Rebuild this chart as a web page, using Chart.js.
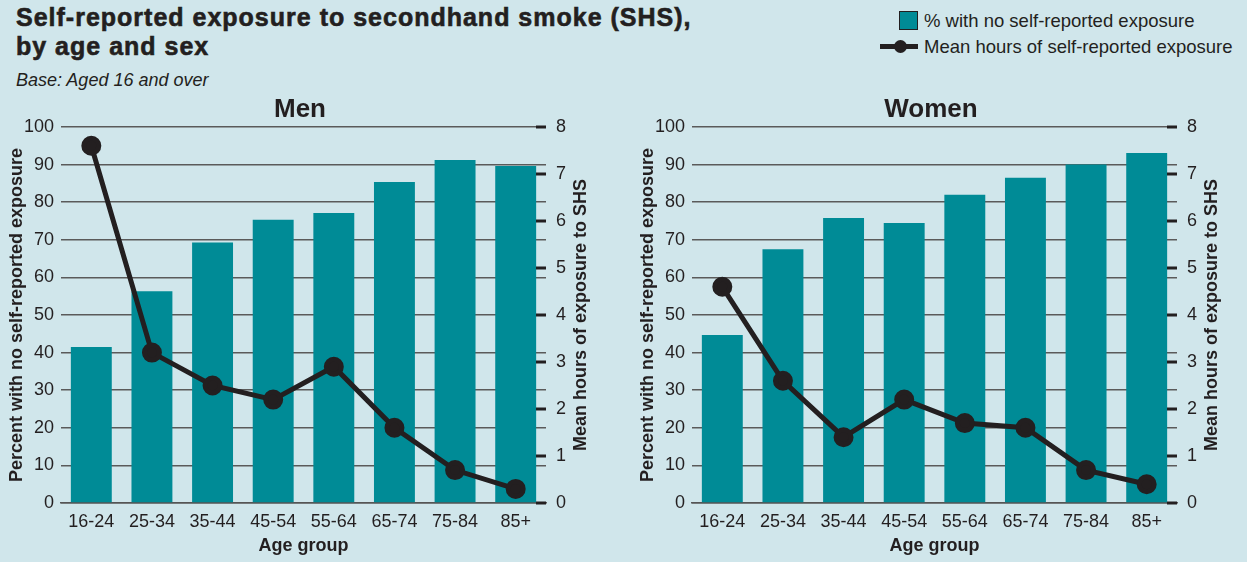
<!DOCTYPE html>
<html>
<head>
<meta charset="utf-8">
<script src="https://cdn.jsdelivr.net/npm/chart.js@4"></script>
<style>
  body { margin: 0; background: #d0e6eb; font-family: "Liberation Sans", Arial, sans-serif; color: #231f20; }
  #page { position: relative; width: 1247px; height: 562px; overflow: hidden; }
  #title { position: absolute; left: 16px; top: 3px; font-size: 25px; font-weight: bold; line-height: 29px; letter-spacing: 1px; -webkit-text-stroke: 0.6px #231f20; }
  #base { position: absolute; left: 16px; top: 70px; font-size: 18px; font-style: italic; }
  .legend { position: absolute; left: 880px; font-size: 18.5px; white-space: nowrap; }
  .sw { position: absolute; left: 19px; top: 11px; width: 17px; height: 17px; background: #008b96; border: 1px solid #231f20; }
  .ln { position: absolute; left: 0; top: 44px; width: 38px; height: 5px; background: #231f20; }
  .dot { position: absolute; left: 14px; top: 40px; width: 13px; height: 13px; border-radius: 50%; background: #231f20; }
  .lt { position: absolute; left: 44px; }
  canvas { position: absolute; top: 90px; }
</style>
</head>
<body>
<div id="page">
  <div id="title">Self-reported exposure to secondhand smoke (SHS),<br>by age and sex</div>
  <div id="base">Base: Aged 16 and over</div>
  <div class="legend" style="top:0">
    <div class="sw"></div><div class="lt" style="top:10px">% with no self-reported exposure</div>
    <div class="ln"></div><div class="dot"></div><div class="lt" style="top:36px">Mean hours of self-reported exposure</div>
  </div>
  <canvas id="menChart" width="600" height="472" style="left:0"></canvas>
  <canvas id="womenChart" width="600" height="472" style="left:631px"></canvas>
</div>
<script>
const ageGroups = ['16-24', '25-34', '35-44', '45-54', '55-64', '65-74', '75-84', '85+'];
const menNoExposure = [41.5, 56.3, 69.3, 75.3, 77.1, 85.4, 91.2, 89.6];
const menMeanHours = [7.6, 3.2, 2.5, 2.2, 2.9, 1.6, 0.7, 0.3];
const womenNoExposure = [44.7, 67.5, 75.8, 74.5, 82.0, 86.5, 90.0, 93.1];
const womenMeanHours = [4.6, 2.6, 1.4, 2.2, 1.7, 1.6, 0.7, 0.4];

const ink = '#231f20';
const teal = '#008b96';
const fontName = '"Liberation Sans", Arial, sans-serif';

// short ticks on the right axis, inside the plot, plus the rotated right title
const rightAxisExtras = {
    id: 'rightAxisExtras',
    afterDraw(chart) {
        const ctx = chart.ctx;
        const area = chart.chartArea;
        const y1 = chart.scales.y1;
        ctx.save();
        ctx.strokeStyle = ink;
        ctx.lineWidth = 3;
        y1.ticks.forEach(t => {
            const y = y1.getPixelForValue(t.value);
            ctx.beginPath();
            ctx.moveTo(area.right - 10, y);
            ctx.lineTo(area.right, y);
            ctx.stroke();
        });
        ctx.translate(area.right + 35, (area.top + area.bottom) / 2);
        ctx.rotate(-Math.PI / 2);
        ctx.font = 'bold 18px ' + fontName;
        ctx.fillStyle = ink;
        ctx.textAlign = 'center';
        ctx.textBaseline = 'middle';
        ctx.fillText('Mean hours of exposure to SHS', 0, 0);
        ctx.restore();
    }
};

function makeChart(id, title, barValues, lineValues) {
    const ctx = document.getElementById(id).getContext('2d');
    return new Chart(ctx, {
        data: {
            labels: ageGroups,
            datasets: [{
                type: 'line',
                label: 'Mean hours of self-reported exposure',
                data: lineValues,
                yAxisID: 'y1',
                borderColor: ink,
                backgroundColor: ink,
                borderWidth: 5,
                pointRadius: 7.5,
                pointHoverRadius: 7.5,
                tension: 0,
                order: 0
            }, {
                type: 'bar',
                label: '% with no self-reported exposure',
                data: barValues,
                yAxisID: 'y',
                backgroundColor: teal,
                categoryPercentage: 1,
                barPercentage: 0.675,
                order: 1
            }]
        },
        options: {
            responsive: false,
            animation: false,
            layout: { padding: 0 },
            plugins: {
                legend: { display: false },
                tooltip: { enabled: false },
                title: {
                    display: true,
                    text: title,
                    color: ink,
                    font: { size: 26, weight: 'bold', family: fontName },
                    padding: { top: 4, bottom: 1.8 }
                }
            },
            scales: {
                x: {
                    grid: { display: false, drawTicks: false },
                    border: { color: '#555', width: 1.5 },
                    ticks: { color: ink, padding: 8, font: { size: 18, family: fontName }, maxRotation: 0 },
                    title: {
                        display: true,
                        text: 'Age group',
                        color: ink,
                        font: { size: 18, weight: 'bold', family: fontName },
                        padding: { top: 0, bottom: 5 }
                    },
                    afterFit: s => { s.height = 59; }
                },
                y: {
                    position: 'left',
                    min: 0,
                    max: 100,
                    ticks: { stepSize: 10, color: ink, padding: 7, font: { size: 18, family: fontName } },
                    grid: { color: '#5a5a5a', lineWidth: 1.5, drawTicks: false },
                    border: { display: false },
                    title: {
                        display: true,
                        text: 'Percent with no self-reported exposure',
                        color: ink,
                        font: { size: 18, weight: 'bold', family: fontName },
                        padding: { top: 6 }
                    },
                    afterFit: s => { s.width = 61; }
                },
                y1: {
                    position: 'right',
                    min: 0,
                    max: 8,
                    ticks: { stepSize: 1, color: ink, padding: 10, font: { size: 18, family: fontName } },
                    grid: { drawOnChartArea: false, drawTicks: false },
                    border: { display: false },
                    afterFit: s => { s.width = 54; }
                }
            }
        },
        plugins: [rightAxisExtras]
    });
}

makeChart('menChart', 'Men', menNoExposure, menMeanHours);
makeChart('womenChart', 'Women', womenNoExposure, womenMeanHours);
</script>
</body>
</html>
